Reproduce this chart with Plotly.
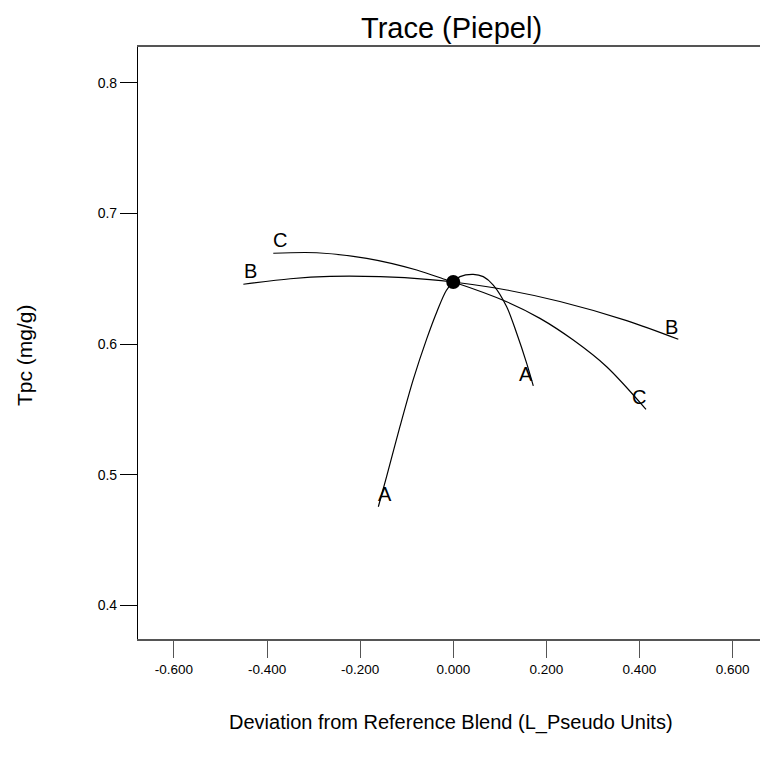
import plotly.graph_objects as go

# ---- data ----
ref_x = [0.0]
ref_y = [0.6475]

a_x = [-0.161, -0.143, -0.1145, -0.0859, -0.0571, -0.035, -0.015, 0.0, 0.0144, 0.043, 0.0644, 0.0859, 0.1147, 0.1362, 0.1577, 0.1719]
a_y = [0.4756, 0.4990, 0.5370, 0.5730, 0.6040, 0.6250, 0.6410, 0.6475, 0.6516, 0.6534, 0.6516, 0.6452, 0.6286, 0.6083, 0.5853, 0.5680]

b_x = [-0.451, -0.35, -0.265, -0.157, -0.050, 0.0, 0.1147, 0.229, 0.3725, 0.4834]
b_y = [0.6458, 0.6500, 0.6518, 0.6516, 0.6494, 0.6475, 0.6414, 0.6326, 0.6180, 0.6037]

c_x = [-0.3867, -0.2934, -0.186, -0.0786, -0.0142, 0.0, 0.1147, 0.1862, 0.2578, 0.3295, 0.414]
c_y = [0.6695, 0.6699, 0.6656, 0.6567, 0.6490, 0.6475, 0.6324, 0.6197, 0.6031, 0.5827, 0.5501]

series = {"A": (a_x, a_y), "B": (b_x, b_y), "C": (c_x, c_y)}

x_ticks = [-0.6, -0.4, -0.2, 0.0, 0.2, 0.4, 0.6]
x_ticktext = ["-0.600", "-0.400", "-0.200", "0.000", "0.200", "0.400", "0.600"]
y_ticks = [0.4, 0.5, 0.6, 0.7, 0.8]
y_ticktext = ["0.4", "0.5", "0.6", "0.7", "0.8"]

title_text = "Trace (Piepel)"
x_title = "Deviation from Reference Blend (L_Pseudo Units)"
y_title = "Tpc (mg/g)"

# ---- layout constants (pixels) ----
W, H = 760, 764
L, R, T, B = 138, 0, 47, 125
SANS = "Liberation Sans, Arial, sans-serif"

fig = go.Figure()
for name, (xs, ys) in series.items():
    fig.add_trace(go.Scatter(x=xs, y=ys, mode="lines", name=name,
                             line=dict(color="black", width=1.2, shape="spline", smoothing=0.9),
                             hoverinfo="skip", showlegend=False))

fig.add_trace(go.Scatter(x=ref_x, y=ref_y, mode="markers",
                         marker=dict(color="black", size=14),
                         showlegend=False))

# end labels for each curve, anchored at curve ends
annots = []
for name, (xs, ys) in series.items():
    annots.append(dict(x=xs[0], y=ys[0], xref="x", yref="y", text=name, showarrow=False,
                       font=dict(family=SANS, size=20, color="black"),
                       xshift=7, yshift=13))
    annots.append(dict(x=xs[-1], y=ys[-1], xref="x", yref="y", text=name, showarrow=False,
                       font=dict(family=SANS, size=20, color="black"),
                       xshift=-7, yshift=12))

ph = H - T - B
pw = W - L - R

def px_to_paper_x(px):
    return (px - L) / pw

def px_to_paper_y(py):
    return (H - B - py) / ph

annots.append(dict(x=px_to_paper_x(452), y=px_to_paper_y(28), xref="paper", yref="paper",
                   text=title_text, showarrow=False, xanchor="center", yanchor="middle",
                   font=dict(family=SANS, size=29, color="black")))
annots.append(dict(x=px_to_paper_x(451), y=px_to_paper_y(722), xref="paper", yref="paper",
                   text=x_title, showarrow=False, xanchor="center", yanchor="middle",
                   font=dict(family=SANS, size=20, color="black")))
annots.append(dict(x=px_to_paper_x(24), y=px_to_paper_y(355), xref="paper", yref="paper",
                   text=y_title, showarrow=False, xanchor="center", yanchor="middle",
                   textangle=-90,
                   font=dict(family=SANS, size=21, color="black")))

fig.update_layout(
    width=W, height=H,
    margin=dict(l=L, r=R, t=T, b=B, pad=0),
    paper_bgcolor="white", plot_bgcolor="white",
    annotations=annots,
    showlegend=False,
)

fig.update_xaxes(range=[-0.6773, 0.6589], tickvals=x_ticks, ticktext=x_ticktext,
                 showgrid=False, zeroline=False,
                 showline=True, linecolor="#555555", linewidth=1.5, mirror=True,
                 ticks="outside", ticklen=17, tickcolor="#555555", tickwidth=1.3,
                 tickfont=dict(family=SANS, size=13.5, color="black"))
fig.update_yaxes(range=[0.3744, 0.8273], tickvals=y_ticks, ticktext=y_ticktext,
                 showgrid=False, zeroline=False,
                 showline=True, linecolor="black", linewidth=1.2,
                 ticks="outside", ticklen=17, tickcolor="black", tickwidth=1.2,
                 tickfont=dict(family=SANS, size=14, color="black"))

fig.write_html("out.html")
